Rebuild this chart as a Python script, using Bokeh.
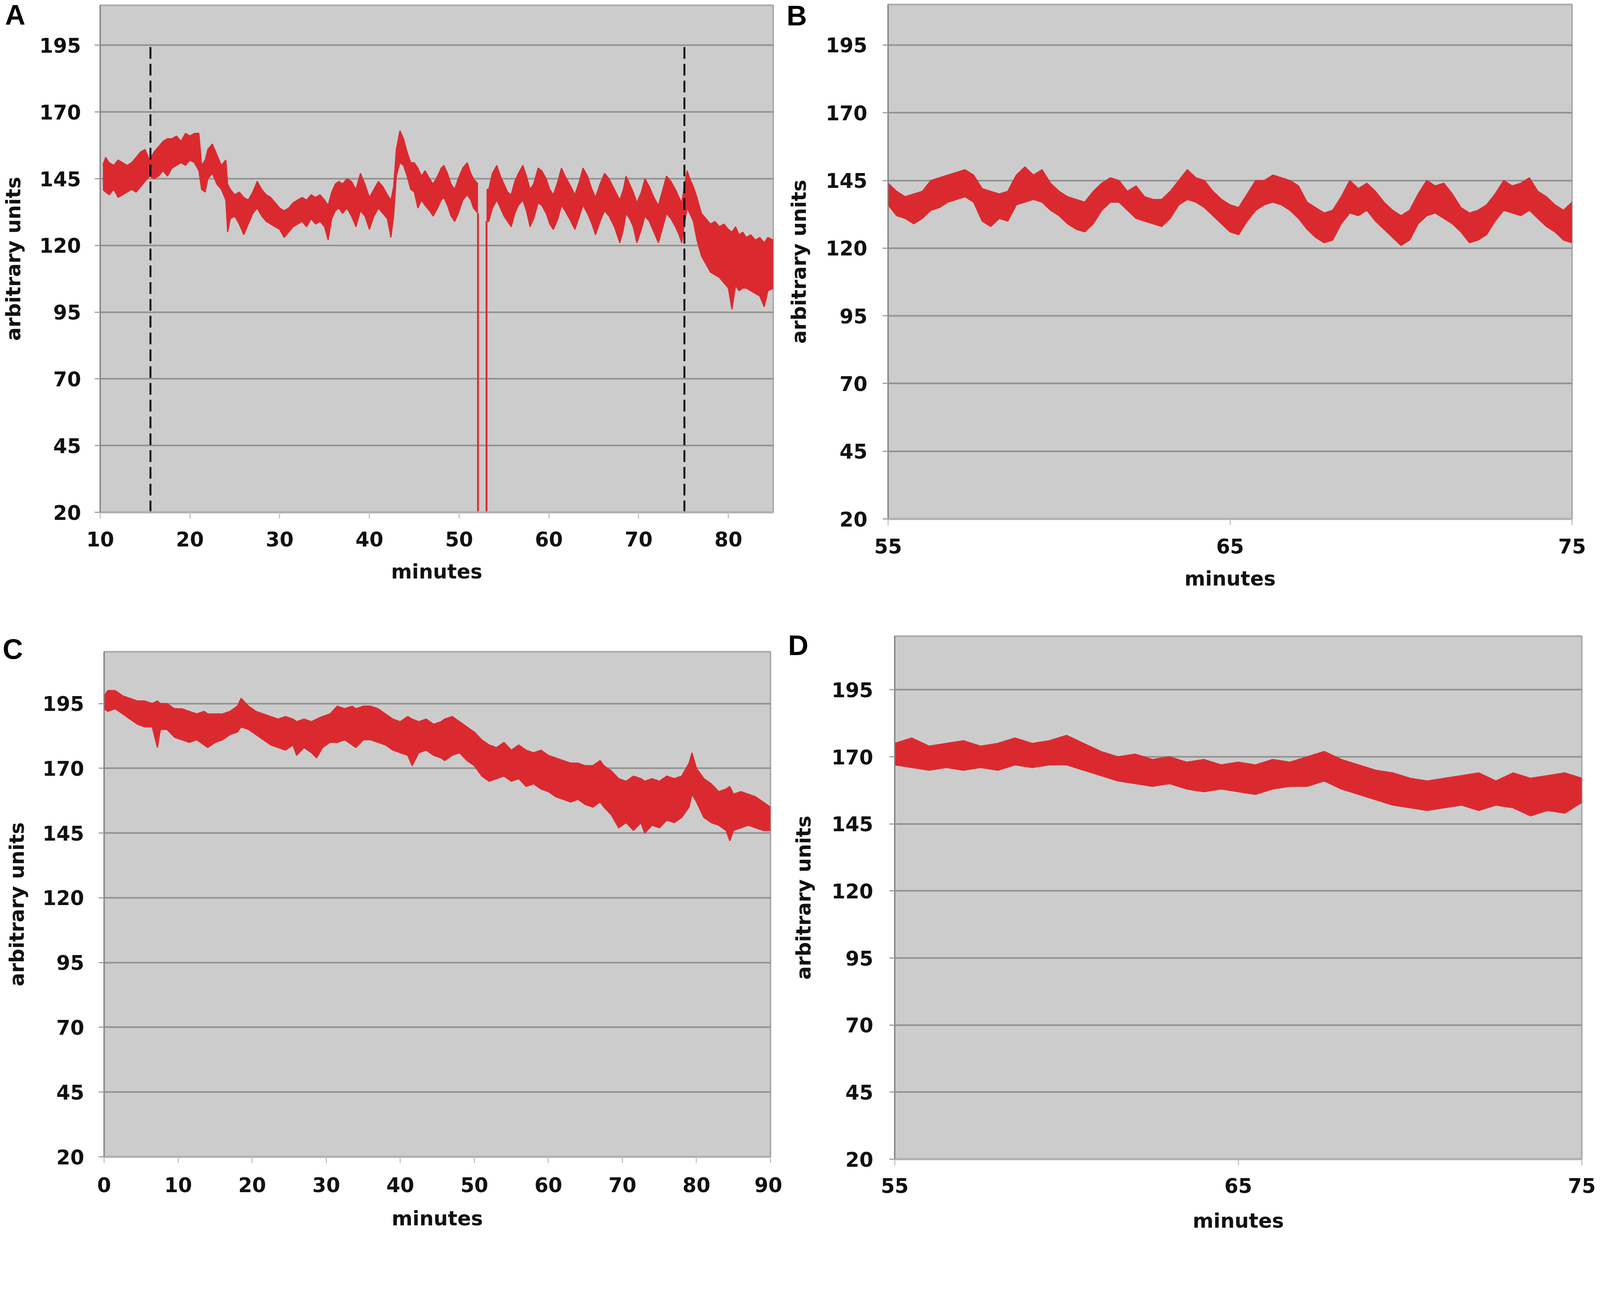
from bokeh.plotting import figure
from bokeh.layouts import row, column
from bokeh.models import FixedTicker, Range1d
from bokeh.embed import file_html
from bokeh.resources import INLINE

# ---------------- data ----------------
Y_TICKS = [20, 45, 70, 95, 120, 145, 170, 195]
A_XTICKS = [10, 20, 30, 40, 50, 60, 70, 80]
B_XTICKS = [55, 65, 75]
C_XTICKS = [0, 10, 20, 30, 40, 50, 60, 70, 80, 90]
D_XTICKS = [55, 65, 75]

# Panel A, before the signal loss (upper / lower edge of the noisy trace)
A1_X = [10.3, 10.6, 11.0, 11.5, 12.0, 12.5, 13.0, 13.5, 14.0, 14.5,
        15.0, 15.5, 16.0, 16.5, 17.0, 17.5, 18.0, 18.5, 19.0, 19.5,
        20.0, 20.5, 21.0, 21.3, 21.7, 22.0, 22.5, 23.0, 23.5, 24.0,
        24.2, 24.5, 25.0, 25.5, 26.0, 26.5, 27.0, 27.5, 28.0, 28.5,
        29.0, 29.5, 30.0, 30.5, 31.0, 31.5, 32.0, 32.5, 33.0, 33.5,
        34.0, 34.5, 35.0, 35.4, 35.8, 36.2, 36.6, 37.0, 37.5, 38.0,
        38.5, 39.0, 39.5, 40.0, 40.5, 41.0, 41.5, 42.0, 42.4, 42.7,
        43.0, 43.4, 43.8, 44.2, 44.6, 45.0, 45.4, 45.8, 46.2, 46.7,
        47.1, 47.6, 48.0, 48.3, 48.7, 49.1, 49.5, 49.9, 50.4, 50.9,
        51.3, 51.6, 52.1]
A1_UP = [150, 153, 151, 150, 152, 151, 150, 151, 153, 155,
         156, 152, 155, 157, 159, 160, 160, 161, 159, 162,
         161, 162, 162, 150, 152, 156, 158, 154, 150, 152,
         143, 141, 139, 140, 138, 137, 140, 144, 141, 139,
         138, 136, 134, 133, 134, 136, 137, 138, 137, 139,
         138, 139, 137, 135, 140, 143, 144, 143, 145, 144,
         141, 147, 143, 138, 141, 144, 142, 139, 137, 142,
         156, 163, 160, 155, 151, 151, 149, 146, 148, 145,
         143, 146, 149, 150, 147, 143, 141, 145, 149, 151,
         147, 145, 143]
A1_LO = [141, 140, 139, 141, 138, 139, 140, 141, 140, 142,
         144, 146, 145, 146, 148, 146, 149, 150, 151, 150,
         152, 151, 148, 141, 140, 145, 147, 143, 141, 137,
         125, 130, 131, 128, 124, 128, 132, 134, 131, 129,
         128, 127, 126, 123, 125, 127, 128, 129, 127, 130,
         128, 129, 127, 122, 130, 133, 134, 132, 134, 131,
         127, 133, 131, 126, 131, 134, 132, 130, 123, 131,
         146, 151, 150, 146, 141, 140, 134, 137, 135, 133,
         131, 134, 137, 138, 135, 131, 129, 132, 137, 139,
         137, 134, 132]

# Panel A, after the signal loss
A2_X = [53.05, 53.3, 53.7, 54.2, 54.6, 55.0, 55.4, 55.8, 56.2, 56.6,
        57.1, 57.5, 57.9, 58.3, 58.8, 59.2, 59.7, 60.1, 60.5, 61.0,
        61.4, 61.8, 62.3, 62.9, 63.4, 63.8, 64.3, 64.8, 65.2, 65.7,
        66.2, 66.7, 67.3, 67.9, 68.3, 68.6, 69.0, 69.4, 69.8, 70.3,
        70.7, 71.2, 71.7, 72.2, 72.7, 73.1, 73.6, 74.1, 74.5, 74.8,
        75.1, 75.4, 75.7, 76.1, 76.5, 77.0, 77.5, 78.0, 78.5, 79.0,
        79.5, 80.0, 80.4, 80.8, 81.2, 81.6, 82.0, 82.5, 83.0, 83.5,
        84.0, 84.4, 85.0]
A2_UP = [141, 141, 147, 150, 146, 143, 140, 139, 144, 147,
         150, 146, 141, 143, 149, 148, 145, 141, 139, 144,
         149, 146, 143, 139, 144, 149, 146, 141, 138, 143,
         147, 145, 141, 137, 141, 146, 143, 140, 136, 140,
         145, 142, 138, 135, 141, 146, 144, 141, 138, 136,
         142, 148, 145, 142, 138, 132, 130, 128, 129, 127,
         128, 126, 125, 127, 124, 125, 123, 124, 122, 123,
         121, 123, 122]
A2_LO = [129, 129, 134, 137, 134, 131, 129, 127, 132, 135,
         137, 133, 127, 130, 136, 135, 132, 128, 126, 130,
         135, 133, 130, 126, 131, 135, 132, 128, 124, 129,
         133, 131, 127, 121, 126, 132, 130, 127, 121, 126,
         131, 129, 125, 121, 127, 132, 130, 127, 124, 121,
         128, 134, 132, 129, 122, 116, 113, 110, 109, 108,
         106, 104, 96, 105, 103, 104, 104, 103, 102, 101,
         97, 103, 104]

# the two drops of panel A (signal falls off the scale and comes back)
SPIKE_X = [52.1, 53.05]
SPIKE_TOP = [132, 129]
SPIKE_BOTTOM = [0, 0]

# dashed markers of panel A
MARK_X = [15.6, 75.1]
MARK_Y0 = [20, 20]
MARK_Y1 = [196, 196]

# Panel B
B_X = [55.0, 55.25, 55.5, 55.75, 56.0, 56.25, 56.5, 56.75, 57.0, 57.25,
       57.5, 57.75, 58.0, 58.25, 58.5, 58.75, 59.0, 59.25, 59.5, 59.75,
       60.0, 60.25, 60.5, 60.75, 61.0, 61.25, 61.5, 61.75, 62.0, 62.25,
       62.5, 62.75, 63.0, 63.25, 63.5, 63.75, 64.0, 64.25, 64.5, 64.75,
       65.0, 65.25, 65.5, 65.75, 66.0, 66.25, 66.5, 66.75, 67.0, 67.25,
       67.5, 67.75, 68.0, 68.25, 68.5, 68.75, 69.0, 69.25, 69.5, 69.75,
       70.0, 70.25, 70.5, 70.75, 71.0, 71.25, 71.5, 71.75, 72.0, 72.25,
       72.5, 72.75, 73.0, 73.25, 73.5, 73.75, 74.0, 74.25, 74.5, 74.75,
       75.0]
B_UP = [144, 141, 139, 140, 141, 145, 146, 147, 148, 149,
        147, 142, 141, 140, 141, 147, 150, 147, 149, 144,
        141, 139, 138, 137, 141, 144, 146, 145, 141, 143,
        139, 138, 138, 141, 145, 149, 146, 145, 141, 138,
        136, 135, 140, 145, 145, 147, 146, 145, 143, 137,
        135, 133, 134, 139, 145, 142, 144, 141, 137, 134,
        132, 134, 140, 145, 143, 144, 140, 135, 133, 134,
        136, 140, 145, 143, 144, 146, 141, 139, 136, 134,
        137]
B_LO = [136, 132, 131, 129, 131, 134, 135, 137, 138, 139,
        137, 130, 128, 131, 130, 136, 137, 138, 137, 134,
        132, 129, 127, 126, 129, 134, 137, 137, 134, 131,
        130, 129, 128, 131, 136, 138, 137, 135, 132, 129,
        126, 125, 130, 134, 136, 137, 136, 134, 131, 127,
        124, 122, 123, 129, 133, 132, 134, 130, 127, 124,
        121, 123, 129, 132, 133, 131, 129, 126, 122, 123,
        125, 130, 134, 133, 132, 134, 131, 128, 126, 123,
        122]

# Panel C
C_X = [0.0, 0.5, 1.5, 2.5, 3.5, 4.5, 5.5, 6.5, 7.2, 7.6,
       8.5, 9.5, 10.5, 11.5, 12.5, 13.5, 14.0, 15.0, 16.0, 17.0,
       18.0, 18.5, 19.5, 20.5, 21.5, 22.5, 23.5, 24.5, 25.5, 26.0,
       27.0, 28.0, 28.7, 29.5, 30.5, 31.5, 32.5, 33.5, 34.0, 35.0,
       36.0, 37.0, 38.0, 39.0, 40.0, 41.0, 41.6, 42.5, 43.5, 44.5,
       45.5, 46.0, 47.0, 48.0, 49.0, 50.0, 51.0, 52.0, 53.0, 54.0,
       55.0, 56.0, 57.0, 58.0, 59.0, 60.0, 61.0, 62.0, 63.0, 64.0,
       65.0, 66.0, 67.0, 67.5, 68.5, 69.5, 70.5, 71.5, 72.5, 73.0,
       74.0, 75.0, 76.0, 77.0, 78.0, 79.0, 79.4, 80.0, 81.0, 82.0,
       83.0, 84.0, 84.5, 85.0, 86.0, 87.0, 88.0, 89.0, 90.0]
C_UP = [198, 200, 200, 198, 197, 196, 196, 195, 196, 195,
        195, 193, 193, 192, 191, 192, 191, 191, 191, 192,
        194, 197, 194, 192, 191, 190, 189, 190, 189, 188,
        189, 188, 189, 190, 191, 194, 193, 194, 193, 194,
        194, 193, 191, 189, 188, 190, 189, 188, 189, 187,
        188, 189, 190, 188, 186, 184, 181, 179, 178, 180,
        177, 179, 177, 176, 177, 175, 174, 173, 172, 172,
        171, 171, 173, 171, 169, 166, 165, 167, 166, 165,
        166, 165, 167, 166, 167, 172, 176, 170, 166, 164,
        161, 162, 163, 160, 161, 160, 159, 157, 155]
C_LO = [193, 192, 193, 191, 189, 187, 186, 186, 178, 185,
        185, 182, 181, 180, 181, 179, 178, 180, 181, 183,
        184, 186, 185, 183, 181, 179, 178, 177, 179, 175,
        178, 176, 174, 178, 180, 180, 181, 179, 178, 181,
        181, 180, 179, 177, 176, 175, 171, 176, 177, 175,
        174, 173, 175, 176, 173, 171, 167, 165, 166, 167,
        165, 166, 163, 164, 162, 161, 159, 158, 157, 158,
        156, 155, 157, 155, 152, 147, 149, 146, 149, 145,
        148, 147, 150, 149, 151, 155, 160, 157, 151, 149,
        148, 146, 142, 146, 147, 148, 147, 146, 146]

# Panel D
D_X = [55.0, 55.5, 56.0, 56.5, 57.0, 57.5, 58.0, 58.5, 59.0, 59.5,
       60.0, 60.5, 61.0, 61.5, 62.0, 62.5, 63.0, 63.5, 64.0, 64.5,
       65.0, 65.5, 66.0, 66.5, 67.0, 67.5, 68.0, 68.5, 69.0, 69.5,
       70.0, 70.5, 71.0, 71.5, 72.0, 72.5, 73.0, 73.5, 74.0, 74.5,
       75.0]
D_UP = [175, 177, 174, 175, 176, 174, 175, 177, 175, 176,
        178, 175, 172, 170, 171, 169, 170, 168, 169, 167,
        168, 167, 169, 168, 170, 172, 169, 167, 165, 164,
        162, 161, 162, 163, 164, 161, 164, 162, 163, 164,
        162]
D_LO = [167, 166, 165, 166, 165, 166, 165, 167, 166, 167,
        167, 165, 163, 161, 160, 159, 160, 158, 157, 158,
        157, 156, 158, 159, 159, 161, 158, 156, 154, 152,
        151, 150, 151, 152, 150, 152, 151, 148, 150, 149,
        153]

# ---------------- styling ----------------
RED = "#DB2A2F"
FONT = "DejaVu Sans"
S = 0.948            # overall pixel scale of the page


def px(v):
    return int(round(v * S))


def fs(v):
    return f"{v * S:.1f}px"


def make_panel(letter, w, h, bl, br, bt, bb, xr, yr, xticks,
               ysd, yals, xsd, xals, t_off, t_stand, t_lh):
    p = figure(width=px(w), height=px(h), x_range=Range1d(*xr), y_range=Range1d(*yr),
               output_backend="svg", toolbar_location=None, tools="",
               min_border_left=px(bl), min_border_right=px(br),
               min_border_top=px(bt), min_border_bottom=px(bb),
               frame_align=False)
    p.background_fill_color = "#CCCCCC"
    p.border_fill_color = "white"
    p.outline_line_color = "#A8A8A8"
    p.outline_line_width = 4 * S

    # panel letter (an empty first line lets it sit beside the top of the frame)
    p.title.text = "\n" + letter
    p.title.text_font = "Liberation Sans"
    p.title.text_font_style = "bold"
    p.title.text_font_size = fs(76)
    p.title.text_line_height = t_lh
    p.title.text_color = "black"
    p.title.align = "left"
    p.title.vertical_align = "bottom"
    p.title.offset = t_off
    p.title.standoff = t_stand

    p.xgrid.visible = False
    p.ygrid.ticker = FixedTicker(ticks=Y_TICKS)
    p.ygrid.grid_line_color = "#909090"
    p.ygrid.grid_line_width = 4 * S

    ya = p.yaxis[0]
    ya.ticker = FixedTicker(ticks=Y_TICKS)
    ya.axis_line_color = "#808080"
    ya.axis_line_width = 3 * S
    ya.major_tick_line_color = "#A0A0A0"
    ya.major_tick_line_width = 3 * S
    ya.major_tick_out = px(15)
    ya.major_tick_in = 0
    ya.minor_tick_line_color = None
    ya.major_label_text_font = FONT
    ya.major_label_text_font_style = "bold"
    ya.major_label_text_font_size = fs(54)
    ya.major_label_text_color = "#111111"
    ya.major_label_standoff = px(ysd)
    ya.axis_label = "arbitrary units"
    ya.axis_label_text_font = FONT
    ya.axis_label_text_font_style = "bold"
    ya.axis_label_text_font_size = fs(54)
    ya.axis_label_text_color = "#111111"
    ya.axis_label_standoff = px(yals)

    xa = p.xaxis[0]
    xa.ticker = FixedTicker(ticks=xticks)
    xa.axis_line_color = "#B0B0B0"
    xa.axis_line_width = 6 * S
    xa.major_tick_line_color = "#C4C4C4"
    xa.major_tick_line_width = 3 * S
    xa.major_tick_out = px(17)
    xa.major_tick_in = 0
    xa.minor_tick_line_color = None
    xa.major_label_text_font = FONT
    xa.major_label_text_font_style = "bold"
    xa.major_label_text_font_size = fs(54)
    xa.major_label_text_color = "#111111"
    xa.major_label_standoff = px(xsd)
    xa.axis_label = "minutes"
    xa.axis_label_text_font = FONT
    xa.axis_label_text_font_style = "bold"
    xa.axis_label_text_font_size = fs(54)
    xa.axis_label_text_color = "#111111"
    xa.axis_label_standoff = px(xals)
    return p


def add_trace(p, xs, up, lo):
    p.varea(x=xs, y1=lo, y2=up, fill_color=RED, fill_alpha=1.0)
    p.line(xs, up, line_color=RED, line_width=3 * S)
    p.line(xs, lo, line_color=RED, line_width=3 * S)


pa = make_panel("A", 2112, 1642, 264, 24, 14, 260, (10, 85), (20, 210), A_XTICKS,
                37, 36, 35, 33, -243.6, -130.0, 0.76)
add_trace(pa, A1_X, A1_UP, A1_LO)
add_trace(pa, A2_X, A2_UP, A2_LO)
pa.segment(x0=SPIKE_X, y0=SPIKE_TOP, x1=SPIKE_X, y1=SPIKE_BOTTOM,
           line_color=RED, line_width=5 * S)
pa.segment(x0=MARK_X, y0=MARK_Y0, x1=MARK_X, y1=MARK_Y1,
           line_color="black", line_width=5 * S, line_dash="30 13")

pb = make_panel("B", 2200, 1642, 286, 68, 7, 242, (55, 75), (20, 210), B_XTICKS,
                41, 38, 36, 33, -259.8, -136.8, 0.819)
add_trace(pb, B_X, B_UP, B_LO)

pc = make_panel("C", 2112, 1688, 281, 32, 107, 207, (0, 90), (20, 215), C_XTICKS,
                39, 35, 38, 36, -259.8, -66.6, 1.2)
add_trace(pc, C_X, C_UP, C_LO)

pd = make_panel("D", 2200, 1688, 304, 41, 75, 195, (55, 75), (20, 215), D_XTICKS,
                43, 41, 34, 40, -273.0, -127.3, 1.2)
add_trace(pd, D_X, D_UP, D_LO)

layout = column(row(pa, pb), row(pc, pd))
open("out.html", "w").write(file_html(layout, INLINE, title="traces"))
